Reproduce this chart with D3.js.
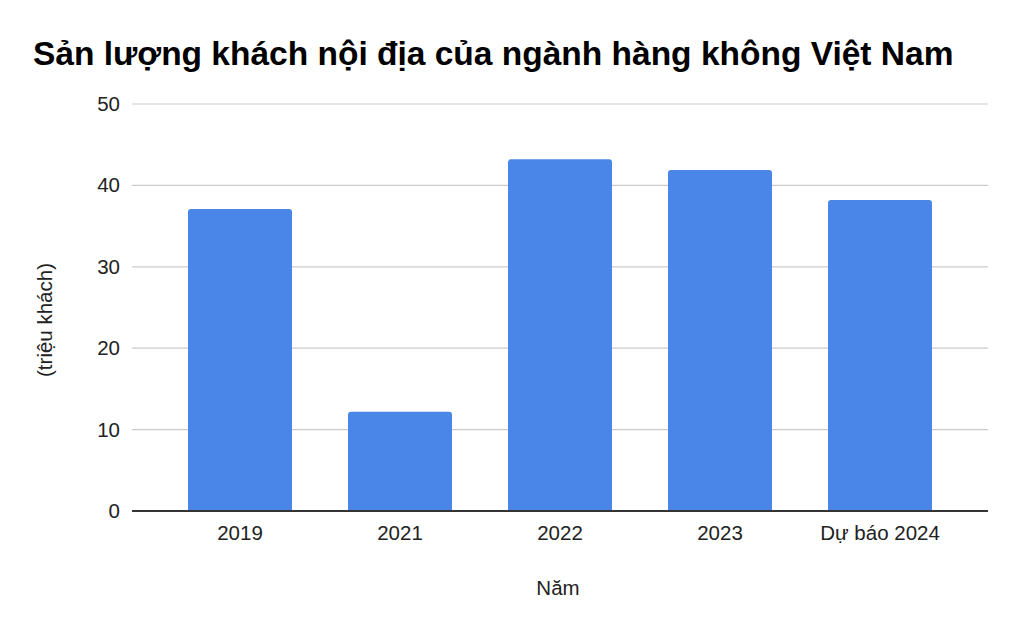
<!DOCTYPE html>
<html><head><meta charset="utf-8">
<script src="https://cdn.jsdelivr.net/npm/d3@7"></script>
<style>body{margin:0;background:#fff}svg{display:block}text{font-family:"Liberation Sans",Arial,sans-serif}</style>
</head><body><svg id="c" width="1020" height="631"></svg>
<script>
const categories = ["2019","2021","2022","2023","Dự báo 2024"];
const values = [37.1, 12.2, 43.2, 41.9, 38.2];
const yTicks = [0,10,20,30,40,50];
const title = "Sản lượng khách nội địa của ngành hàng không Việt Nam";
const xTitle = "Năm";
const yTitle = "(triệu khách)";

const svg = d3.select("#c");
const L=132,R=988,T=104,B=511;
const FS=20.5;
const x = d3.scaleBand().domain(categories).range([L,R]).paddingInner(0.35).paddingOuter(0.35);
const y = d3.scaleLinear().domain([0,50]).range([B,T]);

svg.append("text").attr("x",33).attr("y",65).attr("font-size",33.5).attr("font-weight","bold").attr("fill","#000").text(title);

const g = svg.append("g");
g.selectAll(".grid").data(yTicks.filter(d=>d>0)).join("line")
 .attr("x1",L).attr("x2",R).attr("y1",d=>y(d)).attr("y2",d=>y(d)).attr("stroke","#cccccc").attr("stroke-width",1.2);

const yAxis = d3.axisLeft(y).tickValues(yTicks).tickSize(0).tickPadding(12);
const ya = svg.append("g").attr("transform",`translate(${L},0)`).call(yAxis);
ya.select(".domain").remove();
ya.selectAll("text").attr("font-size",FS).attr("fill","#222").style("font-family",'"Liberation Sans",Arial,sans-serif');

const r=3;
svg.selectAll(".bar").data(values).join("path")
 .attr("fill","#4a86e8")
 .attr("d",(d,i)=>{const x0=x(categories[i]),w=x.bandwidth(),y0=y(d);
   return `M${x0},${B}V${y0+r}Q${x0},${y0} ${x0+r},${y0}H${x0+w-r}Q${x0+w},${y0} ${x0+w},${y0+r}V${B}Z`;});

const xAxis = d3.axisBottom(x).tickSize(0).tickPadding(0);
const xa = svg.append("g").attr("transform",`translate(0,${B})`).call(xAxis);
xa.select(".domain").remove();
xa.selectAll("text").attr("dy",null).attr("y",29).attr("font-size",FS).attr("fill","#222").style("font-family",'"Liberation Sans",Arial,sans-serif');
svg.append("line").attr("x1",L).attr("x2",R).attr("y1",y(0)).attr("y2",y(0)).attr("stroke","#333").attr("stroke-width",2);

svg.append("text").attr("x",558).attr("y",595).attr("text-anchor","middle").attr("font-size",FS).attr("fill","#222").text(xTitle);
svg.append("text").attr("transform","translate(52,320) rotate(-90)").attr("text-anchor","middle").attr("font-size",FS).attr("fill","#222").text(yTitle);
</script></body></html>
